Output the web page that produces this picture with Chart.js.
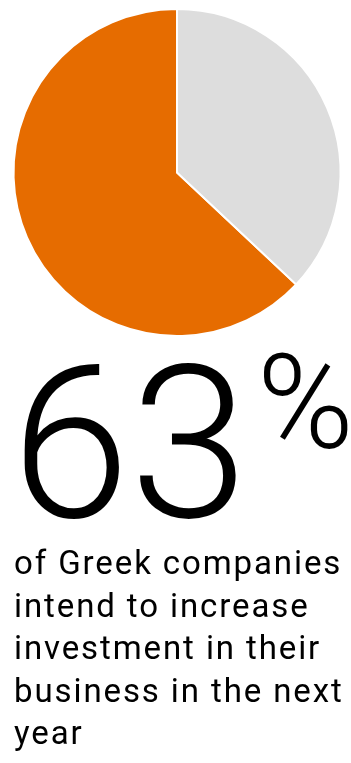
<!DOCTYPE html>
<html>
<head>
<meta charset="utf-8">
<script src="https://cdn.jsdelivr.net/npm/chart.js@4.4.0/dist/chart.umd.min.js"></script>
<style>
   html, body { margin: 0; padding: 0; background: #fff; }
   body { width: 351px; height: 763px; position: relative; overflow: hidden; font-family: Roboto, "Liberation Sans", sans-serif; color: #000; }
   #pie-wrap { position: absolute; left: 0; top: 0; width: 351px; height: 345px; }
   .big { position: absolute; font-weight: 300; line-height: 1; white-space: nowrap; }
   #stat-num { left: 11px; top: 337px; font-size: 214px; }
   #stat-pct { left: 257px; top: 338px; font-size: 131px; }
   #caption { position: absolute; left: 14px; top: 542px; font-size: 33px; line-height: 42.5px; letter-spacing: 1.9px; white-space: nowrap; }
</style>
</head>
<body>
<div id="pie-wrap"><canvas id="invest-chart"></canvas></div>
<div class="big" id="stat-num"></div>
<div class="big" id="stat-pct">%</div>
<div id="caption"></div>

<script>
// share of companies planning to raise investment vs the rest
const labels = ["Intend to increase investment", "Other"];
const shares = [63, 37];
const colors = ["#e66c00", "#dddddd"];
const captionLines = ["of Greek companies", "intend to increase", "investment in their", "business in the next", "year"];

document.addEventListener("DOMContentLoaded", function () {
   document.getElementById("stat-num").textContent = shares[0];
   document.getElementById("caption").innerHTML = captionLines.join("<br>");

   const total = shares.reduce((a, b) => a + b, 0);
   // orange slice ends at 12 o'clock, so start it after the grey share
   const startAngle = (shares[1] / total) * 360;

   const ctx = document.getElementById("invest-chart").getContext("2d");
   const investChart = new Chart(ctx, {
      type: "pie",
      data: {
         labels: labels,
         datasets: [
            {
               data: shares,
               backgroundColor: colors,
               borderColor: "#ffffff",
               borderWidth: 2,
            },
         ],
      },
      options: {
         responsive: true,
         maintainAspectRatio: false,
         animation: false,
         rotation: startAngle,
         layout: { padding: { left: 3, right: 0, top: 8, bottom: 8 } },
         plugins: {
            legend: { display: false },
            tooltip: { enabled: false },
         },
      },
   });
});
</script>
</body>
</html>
